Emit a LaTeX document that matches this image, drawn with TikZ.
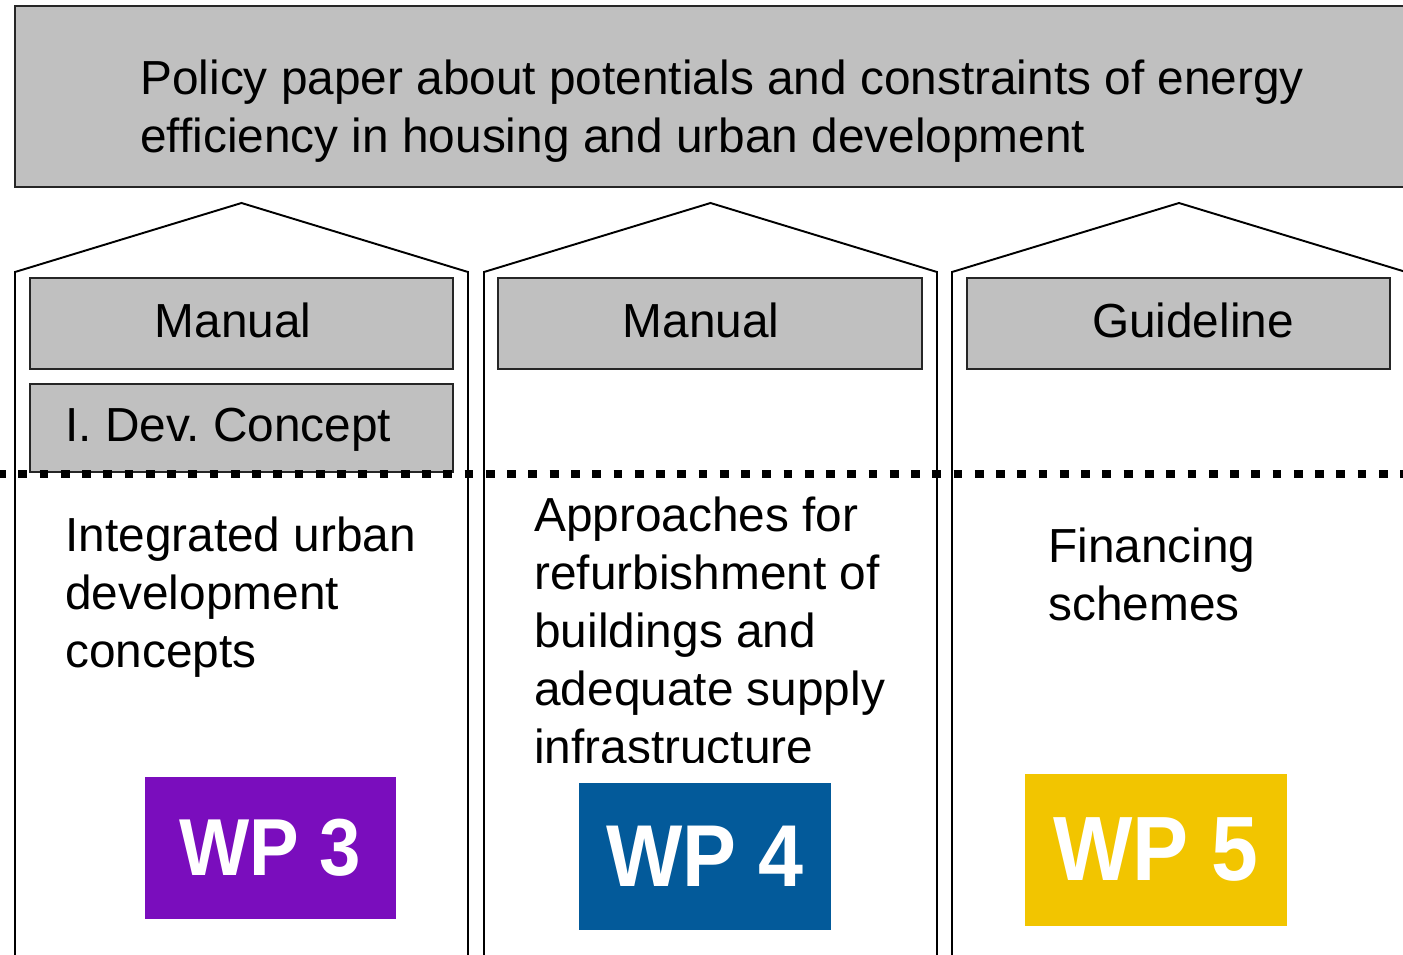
\documentclass[tikz,border=0pt]{standalone}
\usepackage{fontspec}
\setmainfont{Liberation Sans}
\newfontfamily\wpfont[FakeStretch=0.92]{Liberation Sans}
\usepackage{xcolor}
\frenchspacing

\definecolor{boxgrey}{HTML}{C0C0C0}
\definecolor{wpviolet}{HTML}{7A0DBD}
\definecolor{wpblue}{HTML}{035A9A}
\definecolor{wpyellow}{HTML}{F2C500}

\tikzset{
	greybox/.style={fill=boxgrey, draw=black!85, line width=1.1pt},
	house/.style={draw=black, line width=1.1pt},
	bigtext/.style={font=\fontsize{27.2}{33}\selectfont, inner sep=0pt, align=left},
	wpbox/.style={fill=#1, text=white, inner sep=0pt}
}

\begin{document}
\begin{tikzpicture}[x=0.02cm, y=-0.02cm]
			
			% Parameters (pixel grid, y downwards)
			\def\eave{272}
			\def\peak{203}
			\def\ground{960}
			\useasboundingbox (0,0) rectangle (1403,954);
			\clip (0,0) rectangle (1403,954);
			
			% top box
			\draw[greybox] (15,6) rectangle (1415,187);
			\node[bigtext, anchor=base west] (policy) at (140,152)
			{Policy paper about potentials and constraints of energy\\efficiency in housing and urban development};
			
			% house outlines
			\foreach \xl/\xr in {15/468, 484/937, 952/1406} {
				\draw[house] (\xl,\ground) -- (\xl,\eave) -- ({(\xl+\xr)/2},\peak) -- (\xr,\eave) -- (\xr,\ground);
			}
			
			% grey boxes
			\draw[greybox] (30,278) rectangle (453,369);
			\draw[greybox] (30,384) rectangle (453,472);
			\draw[greybox] (498,278) rectangle (922,369);
			\draw[greybox] (967,278) rectangle (1390,369);
			
			% dotted border line
			\draw[line width=5pt, dash pattern=on 5pt off 7.1pt] (-3,474) -- (1410,474);
			
			% box labels
			\node[bigtext, anchor=base] (manA) at (233,337) {Manual};
			\node[bigtext, anchor=base west] (concept) at (65,441) {I. Dev. Concept};
			\node[bigtext, anchor=base] (manB) at (701,337) {Manual};
			\node[bigtext, anchor=base] (guide) at (1193,337) {Guideline};
			
			% topics (base = last line)
			\node[bigtext, anchor=base west] (urban) at (65,667)
			{Integrated urban\\development\\concepts};
			\begin{scope}
				\clip (484,474) rectangle (937,762);
				\node[bigtext, anchor=base west] (refurb) at (534,763)
				{Approaches for\\refurbishment of\\buildings and\\adequate supply\\infrastructure};
			\end{scope}
			\node[bigtext, anchor=base west] (finance) at (1048,620)
			{Financing\\schemes};
			
			% work packages
			\node[wpbox=wpviolet, minimum width=5.02cm, minimum height=2.84cm, font=\wpfont\bfseries\fontsize{46}{46}\selectfont] (wpA) at (270.5,848) {WP 3};
			\node[wpbox=wpblue, minimum width=5.04cm, minimum height=2.94cm, font=\wpfont\bfseries\fontsize{50}{50}\selectfont] (wpB) at (705,856) {WP 4};
			\node[wpbox=wpyellow, minimum width=5.26cm, minimum height=3.06cm, font=\wpfont\bfseries\fontsize{52}{52}\selectfont] (wpC) at (1156,850) {WP 5};
			
		\end{tikzpicture}
\end{document}
